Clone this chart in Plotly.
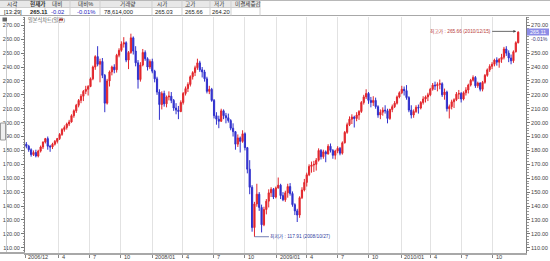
import plotly.graph_objects as go
import pandas as pd

# ---------------- data (weekly OHLC) ----------------
first_week = "2006-12-27"
week_open = [
    184.5,
    183.0, 180.5, 177.0, 178.5, 176.0,
    179.5, 182.5, 186.0, 188.5,
    183.0, 182.5, 184.5, 186.5,
    188.5, 191.5, 195.0, 196.5, 199.0,
    200.5, 205.0, 208.5, 212.5,
    216.0, 219.0, 222.5, 224.0,
    226.0, 231.5, 240.0, 247.5, 242.0,
    244.0, 234.0, 214.0, 230.0,
    236.5, 240.0, 238.0, 248.5,
    252.0, 256.5, 257.5, 245.0, 250.5,
    261.0, 251.5, 243.0, 231.0,
    241.5, 250.5, 246.0, 240.0, 244.0,
    237.0, 231.5, 222.0, 213.0,
    221.0, 213.5, 218.5, 219.0,
    216.0, 210.5, 209.0, 208.0, 214.5,
    221.0, 224.5, 227.5, 233.0,
    236.0, 239.5, 243.0, 238.0,
    236.5, 231.5, 222.5, 224.0, 216.0,
    205.0, 202.5, 201.0, 208.5,
    205.0, 203.5, 201.5, 196.0,
    193.5, 184.5, 189.0, 186.5, 192.0,
    182.0, 166.5, 153.5, 124.5,
    141.5, 148.5, 139.0, 126.5,
    137.5, 143.5, 149.5, 152.0, 146.5,
    153.0, 155.0, 147.5, 144.5,
    149.5, 154.0, 149.0, 141.0,
    136.5, 133.5, 146.0, 151.5, 157.0,
    162.5, 168.5, 169.5, 170.0,
    173.0, 180.0, 175.5, 179.0,
    177.5, 183.0, 180.0, 176.5, 179.5,
    181.5, 178.0, 185.5, 193.0,
    198.5, 202.5, 204.0, 203.0, 205.5,
    208.0, 214.5, 218.5, 221.0,
    216.0, 214.5, 216.0, 211.5,
    205.5, 207.5, 209.0, 208.5, 203.0,
    209.5, 211.5, 214.0, 218.5,
    221.5, 224.0, 223.0, 218.0,
    209.0, 205.5, 208.0, 211.0,
    210.5, 214.5, 217.0, 218.5, 220.0,
    224.0, 227.0, 226.5, 227.5,
    228.0, 220.0, 222.0, 210.0, 211.5,
    215.0, 216.5, 220.5, 221.0,
    217.0, 221.5, 223.5, 227.0,
    230.5, 232.5, 226.5, 228.5, 224.0,
    229.0, 234.0, 238.0, 240.5,
    242.0, 245.0, 243.5, 245.5,
    247.0, 253.0, 250.0, 246.5, 244.5,
    251.0, 257.5,
]
week_high = [
    186.0,
    184.0, 181.5, 180.0, 180.5, 180.5,
    183.5, 186.5, 189.0, 190.0,
    184.0, 185.5, 187.5, 189.0,
    192.5, 196.0, 198.0, 200.0, 202.0,
    206.0, 209.5, 213.5, 217.0,
    220.5, 223.5, 226.5, 227.0,
    232.5, 241.0, 248.5, 255.0, 246.0,
    246.5, 235.0, 231.5, 237.5,
    241.0, 242.0, 249.5, 253.5,
    258.5, 261.5, 258.5, 251.5, 264.0,
    262.0, 255.0, 245.0, 243.5,
    253.0, 252.0, 247.0, 245.5, 246.0,
    238.0, 233.0, 224.0, 222.5,
    223.0, 219.5, 222.5, 222.0,
    217.0, 214.0, 212.0, 216.0, 222.0,
    226.0, 229.0, 234.0, 237.0,
    241.0, 246.0, 244.5, 240.0,
    238.0, 233.0, 226.5, 225.0, 217.0,
    207.5, 205.0, 210.0, 209.5,
    207.0, 206.5, 202.5, 199.5,
    194.0, 191.5, 190.0, 194.5, 193.0,
    182.5, 173.0, 155.0, 143.0,
    156.0, 150.0, 141.0, 139.5,
    145.0, 152.0, 153.5, 153.0, 154.0,
    160.5, 156.0, 150.0, 151.0,
    156.0, 156.5, 150.5, 142.0,
    138.0, 147.0, 153.5, 159.5, 164.0,
    170.0, 172.0, 172.5, 174.5,
    181.5, 181.0, 180.5, 180.0,
    184.5, 185.0, 181.0, 180.5, 183.0,
    182.5, 186.5, 194.0, 200.0,
    204.5, 206.0, 205.0, 207.5, 209.0,
    215.5, 220.0, 224.0, 222.0,
    218.5, 219.0, 218.0, 212.5,
    209.5, 211.0, 212.5, 210.0, 210.0,
    213.0, 215.5, 219.5, 222.5,
    226.5, 226.0, 227.0, 219.0,
    212.5, 209.5, 212.5, 213.0,
    215.5, 219.0, 219.5, 221.5, 225.0,
    228.5, 229.5, 229.0, 231.0,
    229.0, 224.5, 223.0, 213.0, 216.5,
    217.5, 222.0, 223.5, 222.0,
    222.5, 225.5, 228.0, 231.5,
    234.0, 233.5, 229.5, 229.0, 230.0,
    235.0, 239.0, 242.0, 243.5,
    246.0, 247.0, 246.5, 249.5,
    254.5, 255.0, 252.0, 249.0, 252.0,
    258.5, 265.66,
]
week_low = [
    181.5,
    179.0, 175.5, 176.0, 175.0, 175.0,
    178.5, 181.0, 185.0, 180.5,
    179.0, 181.0, 183.5, 185.0,
    187.5, 190.5, 193.5, 195.0, 197.5,
    200.0, 203.5, 207.0, 211.0,
    214.0, 215.5, 220.5, 219.5,
    225.5, 230.5, 238.0, 240.5, 229.0,
    232.0, 207.5, 213.0, 226.0,
    234.0, 235.5, 236.0, 247.0,
    251.0, 254.0, 243.5, 238.5, 249.5,
    249.0, 240.5, 224.5, 229.5,
    240.5, 244.5, 237.5, 238.5, 235.5,
    229.0, 220.0, 202.0, 209.5,
    211.5, 211.0, 216.0, 214.0,
    208.5, 206.0, 202.5, 207.5, 213.0,
    219.5, 222.0, 226.0, 231.0,
    233.5, 238.0, 236.5, 232.5,
    229.5, 221.0, 220.5, 215.0, 203.0,
    198.5, 196.0, 200.5, 202.5,
    199.5, 200.0, 194.5, 190.0,
    180.5, 182.5, 178.5, 185.5, 180.0,
    163.5, 148.5, 121.5, 117.91,
    139.5, 136.5, 121.0, 125.5,
    134.0, 139.0, 146.5, 145.0, 145.5,
    152.5, 145.0, 143.5, 143.0,
    146.0, 147.5, 139.5, 133.5,
    128.5, 131.5, 145.0, 150.5, 154.0,
    161.5, 164.0, 164.5, 165.5,
    172.0, 173.5, 174.0, 171.5,
    177.0, 178.5, 174.0, 173.5, 178.0,
    176.5, 177.0, 185.0, 192.0,
    197.5, 199.0, 196.5, 201.0, 202.0,
    207.0, 213.0, 217.0, 213.5,
    211.0, 212.0, 210.0, 203.5,
    202.5, 205.0, 206.5, 199.5, 202.0,
    207.5, 210.5, 213.0, 217.5,
    220.5, 219.5, 216.5, 207.5,
    203.0, 203.5, 207.0, 206.5,
    209.5, 213.0, 214.5, 215.5, 219.0,
    223.0, 223.5, 222.5, 224.0,
    218.5, 216.5, 208.0, 203.0, 209.5,
    210.5, 215.5, 217.0, 214.5,
    216.0, 219.5, 221.0, 226.0,
    229.5, 225.0, 225.0, 222.5, 222.5,
    228.0, 233.0, 236.5, 238.5,
    240.5, 241.0, 239.5, 243.0,
    245.5, 248.0, 243.5, 242.0, 243.0,
    250.5, 257.0,
]
week_close = [
    183.0,
    180.5, 177.0, 178.5, 176.0, 179.5,
    182.5, 186.0, 188.5, 183.0,
    182.5, 184.5, 186.5, 188.5,
    191.5, 195.0, 196.5, 199.0, 200.5,
    205.0, 208.5, 212.5, 216.0,
    219.0, 222.5, 224.0, 226.0,
    231.5, 240.0, 247.5, 242.0, 244.0,
    234.0, 214.0, 230.0, 236.5,
    240.0, 238.0, 248.5, 252.0,
    256.5, 257.5, 245.0, 250.5, 261.0,
    251.5, 243.0, 231.0, 241.5,
    250.5, 246.0, 240.0, 244.0, 237.0,
    231.5, 222.0, 213.0, 221.0,
    213.5, 218.5, 219.0, 216.0,
    210.5, 209.0, 208.0, 214.5, 221.0,
    224.5, 227.5, 233.0, 236.0,
    239.5, 243.0, 238.0, 236.5,
    231.5, 222.5, 224.0, 216.0, 205.0,
    202.5, 201.0, 208.5, 205.0,
    203.5, 201.5, 196.0, 193.5,
    184.5, 189.0, 186.5, 192.0, 182.0,
    166.5, 153.5, 124.5, 141.5,
    148.5, 139.0, 126.5, 137.5,
    143.5, 149.5, 152.0, 146.5, 153.0,
    155.0, 147.5, 144.5, 149.5,
    154.0, 149.0, 141.0, 136.5,
    133.5, 146.0, 151.5, 157.0, 162.5,
    168.5, 169.5, 170.0, 173.0,
    180.0, 175.5, 179.0, 177.5,
    183.0, 180.0, 176.5, 179.5, 181.5,
    178.0, 185.5, 193.0, 198.5,
    202.5, 204.0, 203.0, 205.5, 208.0,
    214.5, 218.5, 221.0, 216.0,
    214.5, 216.0, 211.5, 205.5,
    207.5, 209.0, 208.5, 203.0, 209.5,
    211.5, 214.0, 218.5, 221.5,
    224.0, 223.0, 218.0, 209.0,
    205.5, 208.0, 211.0, 210.5,
    214.5, 217.0, 218.5, 220.0, 224.0,
    227.0, 226.5, 227.5, 228.0,
    220.0, 222.0, 210.0, 211.5, 215.0,
    216.5, 220.5, 221.0, 217.0,
    221.5, 223.5, 227.0, 230.5,
    232.5, 226.5, 228.5, 224.0, 229.0,
    234.0, 238.0, 240.5, 242.0,
    245.0, 243.5, 245.5, 247.0,
    253.0, 250.0, 246.5, 244.5, 251.0,
    257.5, 265.11,
]

x_tick_dates = ["2006-12-23", "2007-04-02", "2007-07-02", "2007-10-01",
                "2008-01-02", "2008-04-01", "2008-07-01", "2008-10-01",
                "2009-01-02", "2009-04-01", "2009-07-01", "2009-10-01",
                "2010-01-04", "2010-04-01", "2010-07-01", "2010-10-01"]
x_tick_text = ["2006/12", "4", "7", "10", "2008/01", "4", "7", "10",
               "2009/01", "4", "7", "10", "2010/01", "4", "7", "10"]
y_ticks_left = [110, 120, 130, 140, 150, 160, 170, 180, 190, 200,
                210, 220, 230, 240, 250, 260, 270]
y_ticks_right = [110, 120, 130, 140, 150, 160, 170, 180, 190, 200,
                 210, 220, 230, 240, 250, 270]

header_labels = ["시각", "현재가", "대비", "대비%", "거래량", "시가", "고가", "저가", "미결제증감"]
header_values = ["[13:29]", "265.11", "-0.02", "-0.01%", "78,614,000", "265.03", "265.66", "264.20", ""]
series_name = "일본식차트(일간)"
last_price_text = "265.11"
last_change_text = "-0.01%"
high_date_text = "2010/12/15"
low_date_text = "2008/10/27"

# ---------------- figure ----------------
W, H = 550, 261
ML, MR, MT, MB = 25, 24, 17, 8
PW, PH = W - ML - MR, H - MT - MB
FONT = "Liberation Sans, Arial, Noto Sans CJK KR, sans-serif"
UP, DOWN = "#E2262C", "#3030CC"


def px_x(px):
    return (px - ML) / PW


def px_y(py):
    return (H - MB - py) / PH


dates = pd.date_range(first_week, periods=len(week_close), freq="W-WED")

fig = go.Figure()
fig.add_trace(go.Candlestick(
    x=dates, open=week_open, high=week_high, low=week_low, close=week_close,
    increasing=dict(line=dict(color=UP, width=1), fillcolor=UP),
    decreasing=dict(line=dict(color=DOWN, width=1), fillcolor=DOWN),
    whiskerwidth=0, showlegend=False, hoverinfo="skip"))
fig.add_trace(go.Scatter(x=[dates[-1]], y=[week_close[-1]], yaxis="y2", mode="markers",
                         marker=dict(opacity=0), showlegend=False, hoverinfo="skip"))

yr = [106.2, 276.0]
tickfont = dict(family=FONT, size=5.6, color="#444")


def yaxis_style(ticks):
    return dict(range=yr, tickmode="array", tickvals=ticks, tickformat=".2f",
                ticks="outside", ticklen=3, tickcolor="#777", showgrid=False, zeroline=False,
                showline=True, linecolor="#808080", linewidth=1, tickfont=tickfont,
                automargin=False,
                minor=dict(ticks="outside", ticklen=1.5, tickcolor="#999", tick0=110, dtick=2,
                           showgrid=False),
                fixedrange=True)


fig.update_layout(
    width=W, height=H, margin=dict(l=ML, r=MR, t=MT, b=MB, pad=0, autoexpand=False),
    paper_bgcolor="white", plot_bgcolor="white",
    font=dict(family=FONT, size=6, color="#333"),
    xaxis=dict(type="date", range=["2006-12-23", "2011-01-07"], tickmode="array",
               tickvals=x_tick_dates, ticktext=x_tick_text, ticks="outside", ticklen=3,
               tickcolor="#888", showticklabels=False,
               showgrid=True, gridcolor="#E2E2E2", gridwidth=1, showline=True,
               linecolor="#A8A8A8", linewidth=2, zeroline=False, automargin=False,
               rangeslider=dict(visible=False)),
    yaxis=yaxis_style(y_ticks_left),
    yaxis2=dict(yaxis_style(y_ticks_right), overlaying="y", side="right"),
    showlegend=False,
)

shapes = []
annots = []

# x tick labels, set beside the ticks as in the reference
for d, t in zip(x_tick_dates, x_tick_text):
    annots.append(dict(x=d, xref="x", y=px_y(257), yref="paper", text=t, showarrow=False,
                       xanchor="left", yanchor="middle", xshift=1,
                       font=tickfont))

# header table
shapes.append(dict(type="rect", xref="paper", yref="paper", x0=px_x(0), x1=px_x(260),
                   y0=px_y(7.5), y1=px_y(0.5), fillcolor="#E8E8E8", line=dict(width=0), layer="below"))
for (x0, x1, yy, c) in [(0, 550, 0.5, "#B8B8B8"), (0, 260, 7.5, "#CFCFCF"), (0, 550, 15.5, "#A8A8A8")]:
    shapes.append(dict(type="line", xref="paper", yref="paper", x0=px_x(x0), x1=px_x(x1),
                       y0=px_y(yy), y1=px_y(yy), line=dict(color=c, width=1)))
for bx in [16, 45, 70, 100, 152, 182, 210, 231, 260]:
    shapes.append(dict(type="line", xref="paper", yref="paper", x0=px_x(bx), x1=px_x(bx),
                       y0=px_y(0.5), y1=px_y(15.5), line=dict(color="#CFCFCF", width=1)))

label_x = [5, 28, 50, 76, 118, 155, 183, 212, 233]
value_x = [2, 28, 49, 75, 102, 153, 183, 210, 233]
for i, (lab, val) in enumerate(zip(header_labels, header_values)):
    bold = i == 1
    annots.append(dict(xref="paper", yref="paper", x=px_x(label_x[i]), y=px_y(4.2),
                       text=f"<b>{lab}</b>" if bold else lab, showarrow=False,
                       xanchor="left", yanchor="middle",
                       font=dict(family=FONT, size=5.6, color="#333")))
    if val:
        col = "#2020C0" if val.startswith("-") else "#222"
        annots.append(dict(xref="paper", yref="paper", x=px_x(value_x[i]), y=px_y(11.6),
                           text=f"<b>{val}</b>" if bold else val, showarrow=False,
                           xanchor="left", yanchor="middle",
                           font=dict(family=FONT, size=5.8, color=col)))

# icon and legend label
shapes.append(dict(type="rect", xref="paper", yref="paper", x0=px_x(2.5), x1=px_x(7),
                   y0=px_y(21.5), y1=px_y(17.5), fillcolor="#666", line=dict(width=0)))
annots.append(dict(xref="paper", yref="paper", x=px_x(26), y=px_y(19.6), text=series_name,
                   showarrow=False, xanchor="left", yanchor="middle",
                   font=dict(family=FONT, size=5.2, color="#555")))
shapes.append(dict(type="line", xref="paper", yref="paper", x0=px_x(59), x1=px_x(63),
                   y0=px_y(19.6), y1=px_y(19.6), line=dict(color="#D03030", width=2)))

# left strip
shapes.append(dict(type="line", xref="paper", yref="paper", x0=px_x(6.5), x1=px_x(6.5),
                   y0=px_y(22), y1=px_y(253), line=dict(color="#CACACA", width=1)))
shapes.append(dict(type="rect", xref="paper", yref="paper", x0=px_x(0.5), x1=px_x(5.5),
                   y0=px_y(140), y1=px_y(123), fillcolor="#EFEFEF", line=dict(color="#9A9A9A", width=1)))
shapes.append(dict(type="line", xref="paper", yref="paper", x0=px_x(0), x1=px_x(25),
                   y0=px_y(253), y1=px_y(253), line=dict(color="#A8A8A8", width=2)))

# last price box on right axis
shapes.append(dict(type="rect", xref="paper", yref="paper", x0=px_x(527), x1=px_x(549),
                   y0=px_y(35.5), y1=px_y(28.5), fillcolor="#8C8CE6", line=dict(width=0)))
annots.append(dict(xref="paper", yref="paper", x=px_x(538), y=px_y(32), text=last_price_text,
                   showarrow=False, xanchor="center", yanchor="middle",
                   font=dict(family=FONT, size=5.4, color="white")))
annots.append(dict(xref="paper", yref="paper", x=px_x(539), y=px_y(38.6), text=last_change_text,
                   showarrow=False, xanchor="center", yanchor="middle",
                   font=dict(family=FONT, size=5.2, color="#404070")))

# high / low markers
hi_i = max(range(len(week_high)), key=lambda i: week_high[i])
lo_i = min(range(len(week_low)), key=lambda i: week_low[i])
annots.append(dict(x=dates[hi_i], y=week_high[hi_i], xref="x", yref="y",
                   text=f"최고가 : {week_high[hi_i]:.2f} ({high_date_text})",
                   showarrow=True, ax=-58, ay=0, arrowhead=2, arrowsize=0.7, arrowwidth=0.8,
                   arrowcolor="#444", standoff=2,
                   font=dict(family=FONT, size=4.8, color="#B83A3A")))
annots.append(dict(x=dates[lo_i], y=week_low[lo_i], xref="x", yref="y",
                   text=f"최저가 : {week_low[lo_i]:.2f} ({low_date_text})",
                   showarrow=True, ax=46, ay=0, arrowhead=0, arrowwidth=0.8,
                   arrowcolor="#5060A0", standoff=0,
                   font=dict(family=FONT, size=4.8, color="#3040A0")))

fig.update_layout(shapes=shapes, annotations=annots)
fig.write_html("out.html")
